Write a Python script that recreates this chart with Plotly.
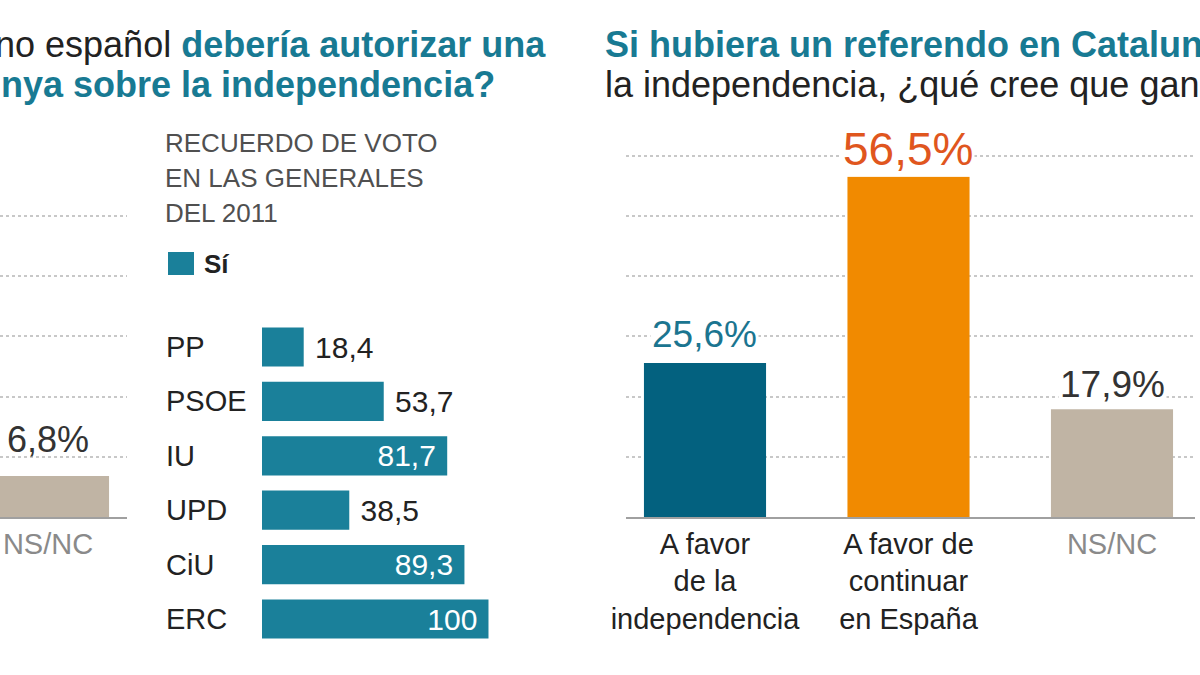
import plotly.graph_objects as go

W, H = 1200, 675


def fx(p):
    return p / W


def fy(p):
    return 1 - p / H


# ---------------- data ----------------
LEFT_CATS = ["NS/NC"]
LEFT_VALS = [6.8]

PARTIES = ["PP", "PSOE", "IU", "UPD", "CiU", "ERC"]
SI_VALS = [18.4, 53.7, 81.7, 38.5, 89.3, 100]

REF_CATS = ["A favor de la independencia", "A favor de continuar en España", "NS/NC"]
REF_VALS = [25.6, 56.5, 17.9]
REF_TICKTEXT = [
    "A favor<br>de la<br>independencia",
    "A favor de<br>continuar<br>en España",
    "<span style='color:#8a8a8a'>NS/NC</span>",
]
LEFT_TICKTEXT = ["<span style='color:#8a8a8a'>NS/NC</span>"]

SUBTITLE_LINES = ["RECUERDO DE VOTO", "EN LAS GENERALES", "DEL 2011"]
LEGEND_NAME = "Sí"
GRID_VALS = [10, 20, 30, 40, 50, 60]

TITLE_LEFT = ["<span style='color:#222222;font-weight:normal'>no español</span> <b>debería autorizar una</b>",
              "<b>nya sobre la independencia?</b>"]
TITLE_RIGHT = ["<b>Si hubiera un referendo en Catalun</b>",
               "<span style='color:#222222'>la independencia, ¿qué cree que gan</span>"]

# ---------------- style ----------------
FONT = "Liberation Sans, Arial, Helvetica, sans-serif"
TEAL = "#1a809a"
DARK_TEAL = "#03617f"
ORANGE = "#f18a00"
BEIGE = "#c0b4a4"
TITLE_TEAL = "#187a93"
GRID = "#c8c8c8"
AXIS = "#a0a0a0"
REF_COLORS = [DARK_TEAL, ORANGE, BEIGE]
REF_LABEL_COLORS = ["#1b7590", "#e0561e", "#333333"]
REF_LABEL_SIZES = [37, 46, 37]
REF_LABEL_SHIFTS = [6, 0, 2]

UNIT = 203.5  # px per category on the vertical charts
PX_PER_PCT = 6.02
BASE = 517


def es(v):
    return f"{v:g}".replace(".", ",")


fig = go.Figure()

# left (partially visible) vertical bar chart
fig.add_trace(go.Bar(x=LEFT_CATS, y=LEFT_VALS, xaxis="x", yaxis="y",
                     marker=dict(color=BEIGE, line=dict(width=0)), width=0.6,
                     showlegend=False, hoverinfo="skip"))

# right vertical bar chart
fig.add_trace(go.Bar(x=REF_CATS, y=REF_VALS, xaxis="x2", yaxis="y2",
                     marker=dict(color=REF_COLORS, line=dict(width=0)), width=0.6,
                     showlegend=False, hoverinfo="skip"))

# horizontal bars by party
pos = ["inside" if v > 60 else "outside" for v in SI_VALS]
txt = [("\u00a0" + es(v)) if p == "outside" else (es(v) + "\u00a0") for v, p in zip(SI_VALS, pos)]
fig.add_trace(go.Bar(x=SI_VALS, y=PARTIES, orientation="h", xaxis="x3", yaxis="y3",
                     marker=dict(color=TEAL, line=dict(width=0)), width=0.72,
                     text=txt, textposition=pos, insidetextanchor="end", textangle=0,
                     insidetextfont=dict(color="white", size=30, family=FONT),
                     outsidetextfont=dict(color="#222222", size=30, family=FONT),
                     cliponaxis=False, name=LEGEND_NAME, showlegend=False, hoverinfo="skip"))

ann = []
# value labels on vertical charts
for c, v, col, sz, sh in zip(REF_CATS, REF_VALS, REF_LABEL_COLORS, REF_LABEL_SIZES, REF_LABEL_SHIFTS):
    ann.append(dict(x=c, y=v, xref="x2", yref="y2", text=f"{es(v)}%", showarrow=False,
                    yanchor="bottom", yshift=sh, bgcolor="white",
                    font=dict(size=sz, color=col, family=FONT)))
for c, v in zip(LEFT_CATS, LEFT_VALS):
    ann.append(dict(x=c, y=v, xref="x", yref="y", text=f"{es(v)}%", showarrow=False,
                    yanchor="bottom", yshift=14,
                    font=dict(size=36, color="#333333", family=FONT)))

# party names
for p in PARTIES:
    ann.append(dict(x=fx(164), y=p, xref="paper", yref="y3", text=p, showarrow=False,
                    xanchor="left", yanchor="middle",
                    font=dict(size=29, color="#222222", family=FONT)))

# subtitle
for i, line in enumerate(SUBTITLE_LINES):
    ann.append(dict(x=fx(163), y=fy(143 + 35 * i), xref="paper", yref="paper", text=line,
                    showarrow=False, xanchor="left", yanchor="middle",
                    font=dict(size=26, color="#505050", family=FONT)))

# legend label
ann.append(dict(x=fx(202), y=fy(264), xref="paper", yref="paper", text=f"<b>{LEGEND_NAME}</b>",
                showarrow=False, xanchor="left", yanchor="middle",
                font=dict(size=26, color="#222222", family=FONT)))

# titles
ann.append(dict(x=fx(548), y=fy(44), xref="paper", yref="paper", text=TITLE_LEFT[0],
                showarrow=False, xanchor="right", yanchor="middle",
                font=dict(size=36, color=TITLE_TEAL, family=FONT)))
ann.append(dict(x=fx(497), y=fy(84), xref="paper", yref="paper", text=TITLE_LEFT[1],
                showarrow=False, xanchor="right", yanchor="middle",
                font=dict(size=36, color=TITLE_TEAL, family=FONT)))
ann.append(dict(x=fx(603), y=fy(44), xref="paper", yref="paper", text=TITLE_RIGHT[0],
                showarrow=False, xanchor="left", yanchor="middle",
                font=dict(size=36, color=TITLE_TEAL, family=FONT)))
ann.append(dict(x=fx(603), y=fy(84), xref="paper", yref="paper", text=TITLE_RIGHT[1],
                showarrow=False, xanchor="left", yanchor="middle",
                font=dict(size=36, color=TITLE_TEAL, family=FONT)))

shapes = [dict(type="rect", xref="paper", yref="paper",
               x0=fx(168), x1=fx(194), y0=fy(275), y1=fy(252),
               fillcolor=TEAL, line=dict(width=0))]

grid_common = dict(showticklabels=False, showgrid=True, gridcolor=GRID, griddash="dot",
                   gridwidth=2, zeroline=False, showline=False, ticks="", tickvals=GRID_VALS,
                   automargin=False)
xcommon = dict(type="category", showline=True, linecolor=AXIS, linewidth=1.5, showgrid=False,
               ticks="", zeroline=False, automargin=False,
               tickfont=dict(size=29, color="#222222", family=FONT))

fig.update_layout(
    width=W, height=H, autosize=False,
    margin=dict(l=0, r=0, t=0, b=0, pad=0, autoexpand=False),
    paper_bgcolor="white", plot_bgcolor="white",
    font=dict(family=FONT),
    xaxis=dict(domain=[0, fx(127)], range=[-48 / UNIT, 79 / UNIT], anchor="y",
               tickvals=LEFT_CATS, ticktext=LEFT_TICKTEXT, **xcommon),
    yaxis=dict(domain=[fy(BASE), fy(BASE - PX_PER_PCT * 55)], range=[0, 55], anchor="x", **grid_common),
    xaxis2=dict(domain=[fx(626), fx(1195)], range=[-79 / UNIT, 2 + 83 / UNIT], anchor="y2",
                tickvals=REF_CATS, ticktext=REF_TICKTEXT, **xcommon),
    yaxis2=dict(domain=[fy(BASE), fy(BASE - PX_PER_PCT * 62)], range=[0, 62], anchor="x2", **grid_common),
    xaxis3=dict(domain=[fx(262), fx(262 + 226.7)], range=[0, 100], anchor="y3", visible=False),
    yaxis3=dict(domain=[fy(646.2), fy(319.8)], range=[5.5, -0.5], anchor="x3", visible=False,
                type="category"),
    annotations=ann,
    shapes=shapes,
    showlegend=False,
)

fig.write_html(
    "out.html",
    config={"displayModeBar": False, "responsive": False},
    post_script=(
        "document.documentElement.style.margin='0';"
        "document.documentElement.style.overflow='hidden';"
        "document.body.style.margin='0';"
        "document.body.style.overflow='hidden';"
        "var gd=document.getElementById('{plot_id}');"
        "gd.style.position='absolute';gd.style.left='0px';gd.style.top='0px';"
    ),
)
